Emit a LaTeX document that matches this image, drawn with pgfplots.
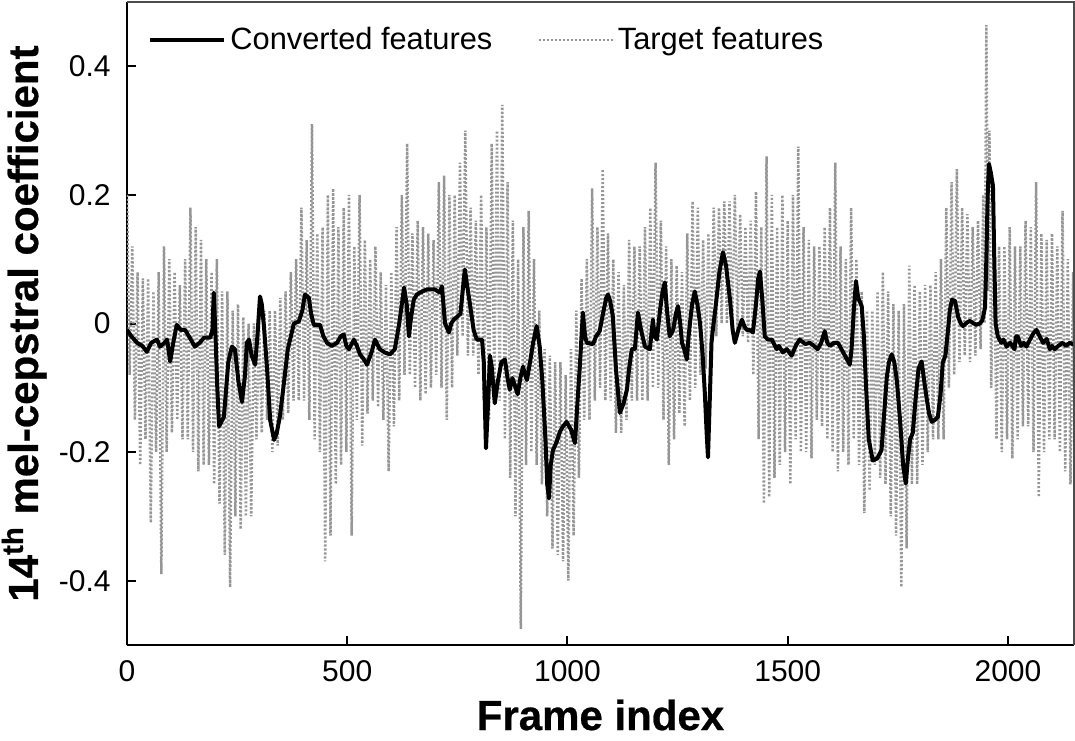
\documentclass[border=0pt]{standalone}
\usepackage{pgfplots}
\pgfplotsset{compat=1.18}
\usepackage{fontspec}
\setmainfont{Liberation Sans}
\newfontfamily\heavyfont{Liberation Sans Bold}[FakeBold=0.6]
\definecolor{tgray}{RGB}{150,150,150}
\begin{document}
\begin{tikzpicture}
\begin{axis}[
  scale only axis, width=473.5pt, height=321.5pt,
  xmin=0, xmax=2150, ymin=-0.5, ymax=0.5,
  axis x line*=bottom, axis y line*=left,
  axis line style={-, line width=1.4pt, black},
  tick align=inside, major tick length=4.5pt,
  every tick/.style={black, line width=1pt},
  xtick={0,500,1000,1500,2000}, xticklabels={0,500,1000,1500,2000},
  ytick={-0.4,-0.2,0,0.2,0.4}, yticklabels={-0.4,-0.2,0,0.2,0.4},
  tick label style={font=\fontsize{15}{18}\selectfont},
  xticklabel style={inner sep=0pt, yshift=-7.5pt},
  yticklabel style={inner sep=0pt, xshift=-8pt},
  xlabel={Frame index},
  ylabel={14\textsuperscript{th} mel-cepstral coefficient},
  label style={font=\heavyfont\fontsize{21}{25}\selectfont},
  xlabel style={at={(axis description cs:0.5,-0.1322)}, anchor=base},
  ylabel style={at={(axis description cs:-0.094,0.5)}, anchor=base},
  legend style={draw=none, fill=none, at={(axis description cs:0.0222,0.9409)}, anchor=west,
    font=\fontsize{15.4}{18}\selectfont, inner sep=0pt,
    /tikz/every even column/.append style={column sep=20.5pt}},
  legend columns=2, legend cell align=left,
  legend image code/.code={\draw[#1] (0pt,0pt) -- (27pt,0pt); \path (0pt,0pt) -- (37pt,0pt);},
]
\addplot[forget plot, tgray, line width=1.25pt, dash pattern=on 1pt off 1pt] coordinates {
(0,0.20)(6,-0.08)(12,0.12)(18,-0.15)(24,0.08)(30,-0.22)(36,0.07)(42,-0.18)(48,0.07)(54,-0.31)
(60,0.05)(66,-0.20)(72,0.08)(78,-0.39)(84,0.12)(90,-0.20)(96,0.10)(102,-0.17)(108,0.08)(114,-0.15)
(120,0.06)(126,-0.18)(132,0.10)(138,-0.18)(144,0.18)(150,-0.20)(156,0.15)(162,-0.23)(168,0.13)(174,-0.22)
(180,0.10)(186,-0.22)(192,0.08)(198,-0.25)(204,0.10)(210,-0.28)(216,0.05)(222,-0.36)(228,0.05)(234,-0.41)
(240,0.02)(246,-0.30)(252,0.03)(258,-0.32)(264,0.01)(270,-0.30)(276,0.0)(282,-0.30)(288,0.0)(294,-0.18)
(300,0.0)(306,-0.17)(312,0.02)(318,-0.15)(324,0.02)(330,-0.20)(336,0.02)(342,-0.19)(348,0.04)(354,-0.15)
(360,0.05)(366,-0.14)(372,0.08)(378,-0.12)(384,0.10)(390,-0.12)(396,0.18)(402,-0.12)(408,0.13)(414,-0.15)
(420,0.31)(426,-0.18)(432,0.14)(438,-0.20)(444,0.15)(450,-0.37)(456,0.20)(462,-0.33)(468,0.21)(474,-0.25)
(480,0.15)(486,-0.22)(492,0.18)(498,-0.20)(504,0.20)(510,-0.33)(516,0.12)(522,-0.15)(528,0.20)(534,-0.19)
(540,0.13)(546,-0.14)(552,0.10)(558,-0.12)(564,0.12)(570,-0.13)(576,0.08)(582,-0.15)(588,0.06)(594,-0.23)
(600,0.08)(606,-0.16)(612,0.15)(618,-0.12)(624,0.20)(630,-0.08)(636,0.28)(642,-0.08)(648,0.14)(654,-0.10)
(660,0.16)(666,-0.12)(672,0.15)(678,-0.11)(684,0.14)(690,-0.10)(696,0.13)(702,-0.08)(708,0.22)(714,-0.10)
(720,0.23)(726,-0.15)(732,0.20)(738,-0.10)(744,0.20)(750,-0.05)(756,0.25)(762,-0.02)(768,0.30)(774,-0.05)
(780,0.18)(786,-0.05)(792,0.16)(798,-0.08)(804,0.20)(810,-0.12)(816,0.15)(822,-0.15)(828,0.28)(834,-0.12)
(840,0.30)(846,-0.12)(852,0.34)(858,-0.18)(864,0.22)(870,-0.24)(876,0.16)(882,-0.30)(888,0.10)(894,-0.475)
(900,0.15)(906,-0.22)(912,0.175)(918,-0.20)(924,0.10)(930,-0.22)(936,0.02)(942,-0.25)(948,-0.04)(954,-0.30)
(960,-0.05)(966,-0.35)(972,-0.06)(978,-0.36)(984,-0.06)(990,-0.37)(996,-0.08)(1002,-0.40)(1008,-0.04)(1014,-0.33)
(1020,0.02)(1026,-0.24)(1032,0.07)(1038,-0.15)(1044,0.10)(1050,-0.15)(1056,0.21)(1062,-0.12)(1068,0.15)(1074,-0.10)
(1080,0.24)(1086,-0.12)(1092,0.14)(1098,-0.12)(1104,0.10)(1110,-0.17)(1116,0.08)(1122,-0.17)(1128,0.06)(1134,-0.15)
(1140,0.13)(1146,-0.12)(1152,0.12)(1158,-0.12)(1164,0.12)(1170,-0.12)(1176,0.15)(1182,-0.12)(1188,0.18)(1194,-0.10)
(1200,0.25)(1206,-0.10)(1212,0.16)(1218,-0.15)(1224,0.12)(1230,-0.22)(1236,0.10)(1242,-0.18)(1248,0.09)(1254,-0.14)
(1260,0.08)(1266,-0.16)(1272,0.14)(1278,-0.12)(1284,0.19)(1290,-0.10)(1296,0.18)(1302,-0.08)(1308,0.13)(1314,-0.07)
(1320,0.14)(1326,-0.05)(1332,0.18)(1338,-0.02)(1344,0.18)(1350,0.0)(1356,0.19)(1362,0.0)(1368,0.19)(1374,-0.01)
(1380,0.20)(1386,-0.01)(1392,0.17)(1398,-0.02)(1404,0.15)(1410,-0.03)(1416,0.16)(1422,-0.08)(1428,0.205)(1434,-0.18)
(1440,0.15)(1446,-0.28)(1452,0.26)(1458,-0.27)(1464,0.20)(1470,-0.24)(1476,0.15)(1482,-0.22)(1488,0.20)(1494,-0.20)
(1500,0.16)(1506,-0.25)(1512,0.20)(1518,-0.18)(1524,0.275)(1530,-0.20)(1536,0.15)(1542,-0.20)(1548,0.13)(1554,-0.21)
(1560,0.12)(1566,-0.15)(1572,0.12)(1578,-0.16)(1584,0.15)(1590,-0.18)(1596,0.18)(1602,-0.20)(1608,0.25)(1614,-0.23)
(1620,0.12)(1626,-0.20)(1632,0.10)(1638,-0.22)(1644,0.18)(1650,-0.18)(1656,0.10)(1662,-0.22)(1668,0.05)(1674,-0.295)
(1680,0.02)(1686,-0.26)(1692,0.02)(1698,-0.22)(1704,0.05)(1710,-0.24)(1716,0.08)(1722,-0.25)(1728,0.05)(1734,-0.30)
(1740,0.03)(1746,-0.33)(1752,0.02)(1758,-0.41)(1764,0.03)(1770,-0.35)(1776,0.09)(1782,-0.25)(1788,0.06)(1794,-0.25)
(1800,0.05)(1806,-0.22)(1812,0.06)(1818,-0.20)(1824,0.06)(1830,-0.18)(1836,0.08)(1842,-0.18)(1848,0.10)(1854,-0.18)
(1860,0.18)(1866,-0.10)(1872,0.22)(1878,-0.08)(1884,0.24)(1890,-0.06)(1896,0.18)(1902,-0.05)(1908,0.17)(1914,-0.06)
(1920,0.15)(1926,-0.05)(1932,0.16)(1938,-0.04)(1944,0.20)(1947,0.0)(1951,0.464)(1955,0.05)(1958,0.30)(1962,-0.10)
(1968,0.15)(1974,-0.18)(1980,0.12)(1986,-0.20)(1992,0.12)(1998,-0.18)(2004,0.15)(2010,-0.21)(2016,0.12)(2022,-0.18)
(2028,0.12)(2034,-0.16)(2040,0.16)(2046,-0.16)(2052,0.15)(2058,-0.20)(2064,0.22)(2070,-0.27)(2076,0.14)(2082,-0.20)
(2088,0.13)(2094,-0.18)(2100,0.14)(2106,-0.18)(2112,0.12)(2118,-0.20)(2124,0.175)(2130,-0.23)(2136,0.10)(2142,-0.25)
(2148,0.08)(2150,-0.10)
};
\addplot[black, line width=2pt, line join=round] coordinates {
(0,-0.01)(10,-0.02)(23,-0.03)(35,-0.035)(45,-0.044)(55,-0.03)(68,-0.025)(75,-0.036)(85,-0.03)(91,-0.025)
(98,-0.059)(105,-0.03)(113,-0.002)(122,-0.01)(132,-0.01)(145,-0.025)(154,-0.036)(165,-0.03)(175,-0.022)(189,-0.022)
(194,-0.01)(197,0.048)(201,-0.02)(205,-0.1)(209,-0.16)(220,-0.145)(230,-0.06)(238,-0.036)(245,-0.04)(253,-0.09)
(261,-0.122)(268,-0.08)(272,-0.03)(277,-0.025)(283,-0.05)(291,-0.064)(296,-0.02)(302,0.042)(306,0.03)(311,-0.005)
(318,-0.07)(325,-0.15)(334,-0.181)(340,-0.17)(347,-0.145)(355,-0.1)(365,-0.04)(379,0.0)(390,0.003)(398,0.02)
(404,0.045)(413,0.04)(418,0.015)(424,-0.002)(438,-0.002)(446,-0.02)(454,-0.03)(465,-0.035)(477,-0.03)(485,-0.02)
(492,-0.017)(498,-0.035)(504,-0.04)(515,-0.025)(522,-0.035)(529,-0.048)(537,-0.055)(545,-0.064)(555,-0.045)(563,-0.025)
(574,-0.04)(585,-0.045)(597,-0.048)(608,-0.04)(618,0.0)(624,0.03)(629,0.056)(635,0.03)(640,-0.02)(645,0.01)
(651,0.037)(658,0.045)(665,0.048)(681,0.053)(699,0.053)(710,0.048)(715,0.058)(722,0.0)(731,-0.014)(736,0.0)
(742,0.006)(757,0.015)(762,0.05)(767,0.084)(772,0.06)(778,0.033)(787,-0.01)(794,-0.025)(806,-0.025)(810,-0.06)
(815,-0.194)(820,-0.12)(824,-0.05)(828,-0.067)(835,-0.124)(842,-0.09)(850,-0.06)(858,-0.056)(864,-0.085)(869,-0.103)
(875,-0.085)(880,-0.095)(887,-0.11)(893,-0.085)(899,-0.067)(904,-0.08)(908,-0.088)(915,-0.06)(922,-0.03)(930,-0.004)
(937,-0.036)(943,-0.09)(950,-0.18)(954,-0.25)(958,-0.272)(962,-0.22)(967,-0.197)(975,-0.185)(983,-0.168)(990,-0.16)
(998,-0.153)(1008,-0.165)(1017,-0.186)(1022,-0.13)(1028,-0.067)(1035,0.017)(1040,-0.02)(1044,-0.03)(1058,-0.032)(1065,-0.02)
(1073,-0.012)(1082,0.02)(1088,0.04)(1092,0.045)(1097,0.035)(1103,0.011)(1110,-0.07)(1119,-0.139)(1127,-0.125)(1135,-0.103)
(1140,-0.07)(1146,-0.04)(1153,-0.04)(1160,0.017)(1167,-0.01)(1176,-0.036)(1187,-0.04)(1194,0.006)(1198,-0.02)(1203,-0.025)
(1210,0.02)(1216,0.05)(1221,0.064)(1226,0.02)(1232,-0.02)(1240,-0.01)(1246,0.015)(1251,0.027)(1256,0.0)(1260,-0.03)
(1265,-0.04)(1271,-0.056)(1275,-0.02)(1278,0.0)(1283,0.03)(1289,0.05)(1295,0.03)(1301,0.0)(1307,-0.05)(1312,-0.11)
(1316,-0.17)(1319,-0.208)(1323,-0.12)(1327,-0.03)(1330,-0.01)(1337,0.03)(1345,0.08)(1353,0.111)(1360,0.09)(1369,0.037)
(1375,-0.01)(1380,-0.03)(1388,-0.01)(1396,0.006)(1402,-0.005)(1407,-0.01)(1414,-0.01)(1421,-0.014)(1428,0.03)(1433,0.07)
(1437,0.081)(1442,0.04)(1448,-0.02)(1455,-0.025)(1464,-0.025)(1475,-0.04)(1480,-0.035)(1489,-0.045)(1498,-0.04)(1509,-0.05)
(1518,-0.035)(1527,-0.025)(1540,-0.032)(1550,-0.03)(1560,-0.035)(1568,-0.04)(1576,-0.03)(1584,-0.012)(1590,-0.03)(1596,-0.035)
(1605,-0.03)(1614,-0.03)(1622,-0.04)(1630,-0.05)(1641,-0.064)(1645,-0.04)(1650,0.02)(1655,0.066)(1660,0.04)(1668,0.027)
(1673,-0.02)(1678,-0.1)(1684,-0.18)(1693,-0.213)(1703,-0.21)(1713,-0.197)(1719,-0.14)(1725,-0.083)(1730,-0.06)(1736,-0.048)
(1742,-0.06)(1748,-0.09)(1755,-0.15)(1762,-0.22)(1768,-0.249)(1773,-0.21)(1778,-0.18)(1784,-0.17)(1790,-0.12)(1797,-0.07)
(1804,-0.059)(1810,-0.09)(1816,-0.119)(1821,-0.14)(1827,-0.153)(1834,-0.15)(1841,-0.145)(1847,-0.11)(1852,-0.061)(1858,-0.05)
(1864,-0.01)(1868,0.02)(1873,0.037)(1880,0.035)(1887,0.01)(1893,0.0)(1898,-0.004)(1908,0.002)(1914,0.004)(1920,0.001)
(1928,-0.002)(1936,0.0)(1942,0.005)(1948,0.025)(1951,0.1)(1954,0.2)(1957,0.248)(1961,0.235)(1966,0.214)(1969,0.1)
(1972,0.0)(1977,-0.02)(1985,-0.03)(1990,-0.025)(1997,-0.036)(2005,-0.03)(2010,-0.035)(2015,-0.04)(2018,-0.02)(2022,-0.02)
(2030,-0.035)(2036,-0.03)(2042,-0.036)(2050,-0.025)(2058,-0.015)(2065,-0.01)(2072,-0.02)(2080,-0.03)(2088,-0.024)(2095,-0.04)
(2100,-0.035)(2106,-0.04)(2114,-0.035)(2124,-0.03)(2132,-0.035)(2140,-0.03)(2150,-0.033)
};
\addlegendentry{Converted features}
\addlegendimage{tgray, line width=1.25pt, dash pattern=on 1pt off 1pt}
\addlegendentry{Target features}
\coordinate (SW) at (rel axis cs:0,0);
\coordinate (NE) at (rel axis cs:1,1);
\end{axis}
\draw[line width=0.6pt, black!70] (SW |- NE) -- (NE) -- (NE |- SW);
\pgfresetboundingbox
\path[use as bounding box] ([xshift=-63.5pt,yshift=-47.5pt]SW) rectangle ([xshift=0.5pt,yshift=1pt]NE);
\end{tikzpicture}
\end{document}
